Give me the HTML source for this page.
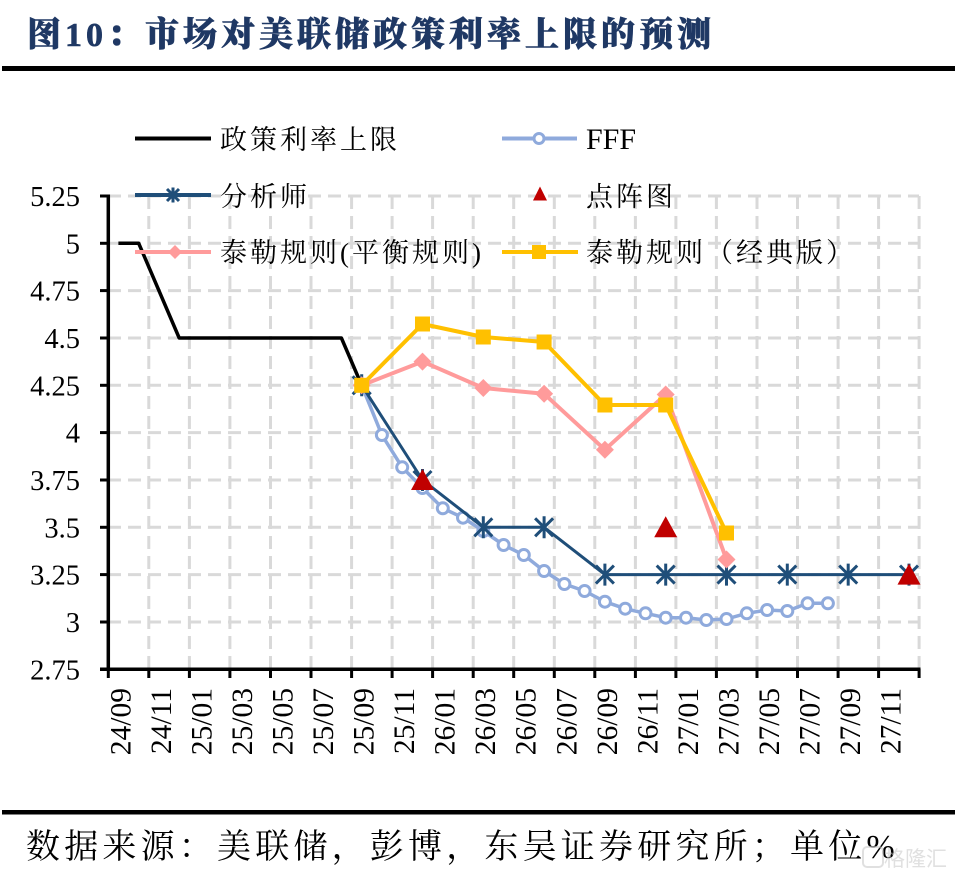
<!DOCTYPE html>
<html>
<head>
<meta charset="utf-8">
<style>
html,body{margin:0;padding:0;background:#fff;}
svg{display:block;}
</style>
</head>
<body>
<svg width="955" height="878" viewBox="0 0 955 878" xmlns="http://www.w3.org/2000/svg">
<rect x="0" y="0" width="955" height="878" fill="#fff"/>

<!-- Title -->
<text x="27" y="46" font-family="'Liberation Serif','Noto Serif CJK SC',serif" font-weight="900" font-size="34" letter-spacing="4" fill="#1f3864" stroke="#1f3864" stroke-width="0.6">图10：市场对美联储政策利率上限的预测</text>
<rect x="2" y="66" width="953" height="5" fill="#000"/>

<!-- Grid -->
<g stroke="#d9d9d9" stroke-width="3" stroke-dasharray="13 7" fill="none">
  <line x1="108" y1="196" x2="919" y2="196"/>
  <line x1="108" y1="243.3" x2="919" y2="243.3"/>
  <line x1="108" y1="290.6" x2="919" y2="290.6"/>
  <line x1="108" y1="338" x2="919" y2="338"/>
  <line x1="108" y1="385.3" x2="919" y2="385.3"/>
  <line x1="108" y1="432.6" x2="919" y2="432.6"/>
  <line x1="108" y1="480" x2="919" y2="480"/>
  <line x1="108" y1="527.3" x2="919" y2="527.3"/>
  <line x1="108" y1="574.6" x2="919" y2="574.6"/>
  <line x1="108" y1="622" x2="919" y2="622"/>
  <line x1="148.8" y1="196" x2="148.8" y2="669"/>
  <line x1="189.4" y1="196" x2="189.4" y2="669"/>
  <line x1="229.9" y1="196" x2="229.9" y2="669"/>
  <line x1="270.5" y1="196" x2="270.5" y2="669"/>
  <line x1="311.0" y1="196" x2="311.0" y2="669"/>
  <line x1="351.6" y1="196" x2="351.6" y2="669"/>
  <line x1="392.1" y1="196" x2="392.1" y2="669"/>
  <line x1="432.6" y1="196" x2="432.6" y2="669"/>
  <line x1="473.2" y1="196" x2="473.2" y2="669"/>
  <line x1="513.7" y1="196" x2="513.7" y2="669"/>
  <line x1="554.3" y1="196" x2="554.3" y2="669"/>
  <line x1="594.8" y1="196" x2="594.8" y2="669"/>
  <line x1="635.4" y1="196" x2="635.4" y2="669"/>
  <line x1="675.9" y1="196" x2="675.9" y2="669"/>
  <line x1="716.4" y1="196" x2="716.4" y2="669"/>
  <line x1="757.0" y1="196" x2="757.0" y2="669"/>
  <line x1="797.5" y1="196" x2="797.5" y2="669"/>
  <line x1="838.1" y1="196" x2="838.1" y2="669"/>
  <line x1="878.6" y1="196" x2="878.6" y2="669"/>
  <line x1="919.1" y1="196" x2="919.1" y2="669"/>
</g>

<!-- Axes -->
<g stroke="#000" stroke-width="3.5" fill="none">
  <line x1="108.3" y1="194.5" x2="108.3" y2="671"/>
  <line x1="100" y1="669.3" x2="920.5" y2="669.3"/>
</g>
<g stroke="#000" stroke-width="3">
  <line x1="100" y1="196" x2="108" y2="196"/>
  <line x1="100" y1="243.3" x2="108" y2="243.3"/>
  <line x1="100" y1="290.6" x2="108" y2="290.6"/>
  <line x1="100" y1="338" x2="108" y2="338"/>
  <line x1="100" y1="385.3" x2="108" y2="385.3"/>
  <line x1="100" y1="432.6" x2="108" y2="432.6"/>
  <line x1="100" y1="480" x2="108" y2="480"/>
  <line x1="100" y1="527.3" x2="108" y2="527.3"/>
  <line x1="100" y1="574.6" x2="108" y2="574.6"/>
  <line x1="100" y1="622" x2="108" y2="622"/>
  <line x1="108.3" y1="669" x2="108.3" y2="678"/>
  <line x1="148.8" y1="669" x2="148.8" y2="678"/>
  <line x1="189.4" y1="669" x2="189.4" y2="678"/>
  <line x1="229.9" y1="669" x2="229.9" y2="678"/>
  <line x1="270.5" y1="669" x2="270.5" y2="678"/>
  <line x1="311.0" y1="669" x2="311.0" y2="678"/>
  <line x1="351.6" y1="669" x2="351.6" y2="678"/>
  <line x1="392.1" y1="669" x2="392.1" y2="678"/>
  <line x1="432.6" y1="669" x2="432.6" y2="678"/>
  <line x1="473.2" y1="669" x2="473.2" y2="678"/>
  <line x1="513.7" y1="669" x2="513.7" y2="678"/>
  <line x1="554.3" y1="669" x2="554.3" y2="678"/>
  <line x1="594.8" y1="669" x2="594.8" y2="678"/>
  <line x1="635.4" y1="669" x2="635.4" y2="678"/>
  <line x1="675.9" y1="669" x2="675.9" y2="678"/>
  <line x1="716.4" y1="669" x2="716.4" y2="678"/>
  <line x1="757.0" y1="669" x2="757.0" y2="678"/>
  <line x1="797.5" y1="669" x2="797.5" y2="678"/>
  <line x1="838.1" y1="669" x2="838.1" y2="678"/>
  <line x1="878.6" y1="669" x2="878.6" y2="678"/>
  <line x1="919.1" y1="669" x2="919.1" y2="678"/>
</g>

<!-- Y labels -->
<g font-family="'Liberation Serif',serif" font-size="28.5" fill="#000" text-anchor="end">
  <text x="80" y="206">5.25</text>
  <text x="80" y="253.3">5</text>
  <text x="80" y="300.6">4.75</text>
  <text x="80" y="348">4.5</text>
  <text x="80" y="395.3">4.25</text>
  <text x="80" y="442.6">4</text>
  <text x="80" y="490">3.75</text>
  <text x="80" y="537.3">3.5</text>
  <text x="80" y="584.6">3.25</text>
  <text x="80" y="632">3</text>
  <text x="80" y="679.3">2.75</text>
</g>

<!-- X labels -->
<g font-family="'Liberation Serif',serif" font-size="29.5" fill="#000" text-anchor="end">
  <text transform="translate(130.3,688) rotate(-90)">24/09</text>
  <text transform="translate(170.8,688) rotate(-90)">24/11</text>
  <text transform="translate(211.4,688) rotate(-90)">25/01</text>
  <text transform="translate(251.9,688) rotate(-90)">25/03</text>
  <text transform="translate(292.5,688) rotate(-90)">25/05</text>
  <text transform="translate(333.0,688) rotate(-90)">25/07</text>
  <text transform="translate(373.6,688) rotate(-90)">25/09</text>
  <text transform="translate(414.1,688) rotate(-90)">25/11</text>
  <text transform="translate(454.6,688) rotate(-90)">26/01</text>
  <text transform="translate(495.2,688) rotate(-90)">26/03</text>
  <text transform="translate(535.7,688) rotate(-90)">26/05</text>
  <text transform="translate(576.3,688) rotate(-90)">26/07</text>
  <text transform="translate(616.8,688) rotate(-90)">26/09</text>
  <text transform="translate(657.4,688) rotate(-90)">26/11</text>
  <text transform="translate(697.9,688) rotate(-90)">27/01</text>
  <text transform="translate(738.4,688) rotate(-90)">27/03</text>
  <text transform="translate(779.0,688) rotate(-90)">27/05</text>
  <text transform="translate(819.5,688) rotate(-90)">27/07</text>
  <text transform="translate(860.1,688) rotate(-90)">27/09</text>
  <text transform="translate(900.6,688) rotate(-90)">27/11</text>
</g>

<!-- Series: policy rate upper limit -->
<polyline fill="none" stroke="#000" stroke-width="3.5" stroke-linejoin="round" points="118.4,243.3 138.7,243.3 179.2,338 341.4,338 361.7,385.3"/>

<!-- Series: FFF -->
<polyline fill="none" stroke="#8faadc" stroke-width="3.5" stroke-linejoin="round" points="361.7,385.3 381.9,435 402.2,467.3 422.5,488 442.8,508.3 463.0,517.7 483.3,531 503.6,545 523.8,555 544.1,571 564.4,584 584.6,591 604.9,601.7 625.2,608.7 645.5,613.3 665.7,617.7 686.0,617.7 706.3,620 726.5,619 746.8,613.3 767.1,610 787.3,611 807.6,603.3 827.9,603.3"/>
<g fill="#fff" stroke="#8faadc" stroke-width="3">
  <circle cx="361.7" cy="385.3" r="5.5"/>
  <circle cx="381.9" cy="435" r="5.5"/>
  <circle cx="402.2" cy="467.3" r="5.5"/>
  <circle cx="422.5" cy="488" r="5.5"/>
  <circle cx="442.8" cy="508.3" r="5.5"/>
  <circle cx="463.0" cy="517.7" r="5.5"/>
  <circle cx="483.3" cy="531" r="5.5"/>
  <circle cx="503.6" cy="545" r="5.5"/>
  <circle cx="523.8" cy="555" r="5.5"/>
  <circle cx="544.1" cy="571" r="5.5"/>
  <circle cx="564.4" cy="584" r="5.5"/>
  <circle cx="584.6" cy="591" r="5.5"/>
  <circle cx="604.9" cy="601.7" r="5.5"/>
  <circle cx="625.2" cy="608.7" r="5.5"/>
  <circle cx="645.5" cy="613.3" r="5.5"/>
  <circle cx="665.7" cy="617.7" r="5.5"/>
  <circle cx="686.0" cy="617.7" r="5.5"/>
  <circle cx="706.3" cy="620" r="5.5"/>
  <circle cx="726.5" cy="619" r="5.5"/>
  <circle cx="746.8" cy="613.3" r="5.5"/>
  <circle cx="767.1" cy="610" r="5.5"/>
  <circle cx="787.3" cy="611" r="5.5"/>
  <circle cx="807.6" cy="603.3" r="5.5"/>
  <circle cx="827.9" cy="603.3" r="5.5"/>
</g>

<!-- Series: analysts -->
<polyline fill="none" stroke="#1f4e79" stroke-width="3" stroke-linejoin="round" points="361.7,385.3 422.5,480 483.3,527.3 544.1,527.3 604.9,574.6 665.7,574.6 726.5,574.6 787.3,574.6 848.2,574.6 909.0,574.6"/>
<g stroke="#1f4e79" stroke-width="3" fill="none">
  <path d="M352.7,376.3L370.7,394.3M370.7,376.3L352.7,394.3M361.7,374.3L361.7,396.3"/>
  <path d="M413.5,471L431.5,489M431.5,471L413.5,489M422.5,469L422.5,491"/>
  <path d="M474.3,518.3L492.3,536.3M492.3,518.3L474.3,536.3M483.3,516.3L483.3,538.3"/>
  <path d="M535.1,518.3L553.1,536.3M553.1,518.3L535.1,536.3M544.1,516.3L544.1,538.3"/>
  <path d="M595.9,565.6L613.9,583.6M613.9,565.6L595.9,583.6M604.9,563.6L604.9,585.6"/>
  <path d="M656.7,565.6L674.7,583.6M674.7,565.6L656.7,583.6M665.7,563.6L665.7,585.6"/>
  <path d="M717.5,565.6L735.5,583.6M735.5,565.6L717.5,583.6M726.5,563.6L726.5,585.6"/>
  <path d="M778.3,565.6L796.3,583.6M796.3,565.6L778.3,583.6M787.3,563.6L787.3,585.6"/>
  <path d="M839.2,565.6L857.2,583.6M857.2,565.6L839.2,583.6M848.2,563.6L848.2,585.6"/>
  <path d="M900,565.6L918,583.6M918,565.6L900,583.6M909,563.6L909,585.6"/>
</g>

<!-- Series: dot plot -->
<g fill="#c00000">
  <polygon points="422.5,469 411,490 434,490"/>
  <polygon points="665.7,516.3 654.2,537.3 677.2,537.3"/>
  <polygon points="909,563.6 897.5,584.6 920.5,584.6"/>
</g>

<!-- Series: Taylor balanced -->
<polyline fill="none" stroke="#ff9b9b" stroke-width="4" stroke-linejoin="round" points="361.7,385.3 422.5,361.6 483.3,388 544.1,393.8 604.9,449.7 665.7,394.5 726.5,559.5"/>
<g fill="#ff9b9b">
  <polygon points="361.7,376.3 370.7,385.3 361.7,394.3 352.7,385.3"/>
  <polygon points="422.5,352.6 431.5,361.6 422.5,370.6 413.5,361.6"/>
  <polygon points="483.3,379 492.3,388 483.3,397 474.3,388"/>
  <polygon points="544.1,384.8 553.1,393.8 544.1,402.8 535.1,393.8"/>
  <polygon points="604.9,440.7 613.9,449.7 604.9,458.7 595.9,449.7"/>
  <polygon points="665.7,385.5 674.7,394.5 665.7,403.5 656.7,394.5"/>
  <polygon points="726.5,550.5 735.5,559.5 726.5,568.5 717.5,559.5"/>
</g>

<!-- Series: Taylor classic -->
<polyline fill="none" stroke="#ffc000" stroke-width="4" stroke-linejoin="round" points="361.7,385.3 422.5,324 483.3,337 544.1,342 604.9,405 665.7,405 726.5,533"/>
<g fill="#ffc000">
  <rect x="354.2" y="377.8" width="15" height="15"/>
  <rect x="415" y="316.5" width="15" height="15"/>
  <rect x="475.8" y="329.5" width="15" height="15"/>
  <rect x="536.6" y="334.5" width="15" height="15"/>
  <rect x="597.4" y="397.5" width="15" height="15"/>
  <rect x="658.2" y="397.5" width="15" height="15"/>
  <rect x="719" y="525.5" width="15" height="15"/>
</g>

<!-- Legend -->
<line x1="135" y1="138.5" x2="211" y2="138.5" stroke="#000" stroke-width="4"/>
<line x1="502" y1="138.5" x2="577" y2="138.5" stroke="#8faadc" stroke-width="4"/>
<circle cx="539" cy="138.5" r="5" fill="#fff" stroke="#8faadc" stroke-width="3"/>

<line x1="135" y1="195" x2="211" y2="195" stroke="#1f4e79" stroke-width="4"/>
<path d="M167,189L179,201M179,189L167,201M173,187.5L173,202.5" stroke="#1f4e79" stroke-width="3" fill="none"/>
<polygon points="540,186.5 533,200.5 547,200.5" fill="#c00000"/>

<line x1="135" y1="252" x2="211" y2="252" stroke="#ff9b9b" stroke-width="4"/>
<polygon points="175,245 182,252 175,259 168,252" fill="#ff9b9b"/>
<line x1="502" y1="252" x2="578" y2="252" stroke="#ffc000" stroke-width="4"/>
<rect x="532" y="245" width="14" height="14" fill="#ffc000"/>

<g font-family="'Liberation Serif','Noto Serif CJK SC',serif" font-size="27" fill="#000" letter-spacing="3">
  <text x="220" y="149">政策利率上限</text>
  <text x="220" y="206">分析师</text>
  <text x="220" y="262">泰勒规则(平衡规则)</text>
  <text x="586" y="206">点阵图</text>
  <text x="586" y="262">泰勒规则（经典版）</text>
</g>
<text x="586" y="149" font-family="'Liberation Serif',serif" font-size="30" fill="#000">FFF</text>

<!-- Footer -->
<rect x="2" y="810" width="953" height="4.5" fill="#000"/>
<text x="26" y="858" font-family="'Liberation Serif','Noto Serif CJK SC',serif" font-size="34" letter-spacing="4.2" fill="#000">数据来源：美联储，彭博，东吴证券研究所；单位%</text>

<!-- Watermark -->
<g opacity="0.55">
  <rect x="863" y="847" width="20" height="20" rx="4" fill="none" stroke="#c8c8c8" stroke-width="2"/>
  <text x="884" y="866" font-family="'Noto Sans CJK SC',sans-serif" font-size="21" fill="#c8c8c8">格隆汇</text>
</g>
</svg>
</body>
</html>
